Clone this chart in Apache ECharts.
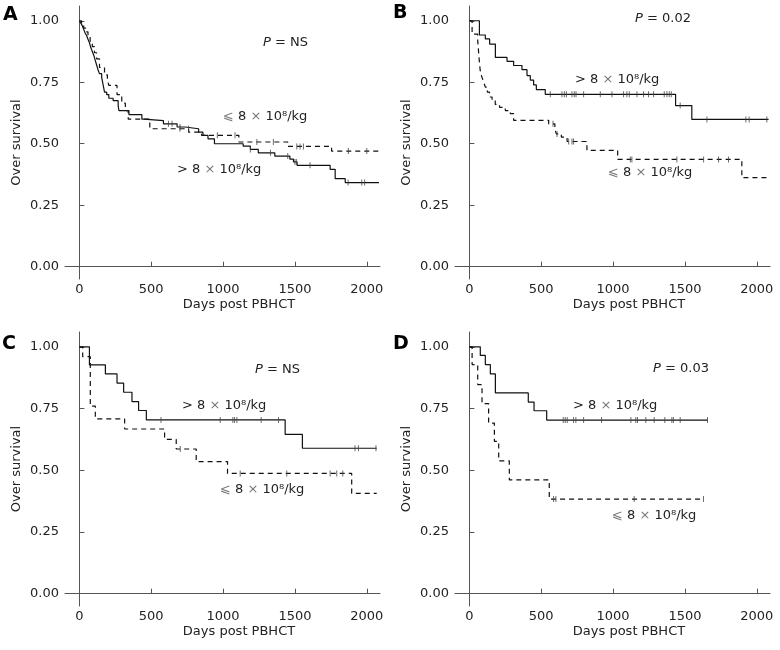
<!DOCTYPE html>
<html><head><meta charset="utf-8">
<script src="https://cdn.jsdelivr.net/npm/echarts@6/dist/echarts.min.js"></script>
<style>html,body{margin:0;padding:0;background:#fff}#c{width:780px;height:650px}</style>
</head><body><div id="c"></div><script>
// ---------- data ----------
const xTicks = [0, 500, 1000, 1500, 2000];
const yTicks = [0, 0.25, 0.5, 0.75, 1];

// Panel A
const aHighT = [0,10,20,30,40,50,60,70,80,90,100,110,120,130,140,155,165,175,190,205,235,270,275,345,435,450,585,680,735,830,860,895,940,1140,1190,1245,1360,1465,1490,1515,1745,1780,1850,2085];
const aHighS = [1,0.99,0.98,0.965,0.95,0.94,0.925,0.91,0.89,0.875,0.86,0.84,0.82,0.80,0.785,0.77,0.74,0.71,0.70,0.685,0.675,0.655,0.635,0.618,0.60,0.594,0.581,0.568,0.561,0.547,0.534,0.52,0.50,0.49,0.477,0.463,0.45,0.437,0.426,0.412,0.396,0.358,0.342,0.342];
const aHighCT = [620,645,700,760,1190,1330,1450,1500,1510,1605,1870,1965,1985];
const aHighCS = [0.581,0.581,0.568,0.561,0.477,0.463,0.45,0.426,0.426,0.412,0.342,0.342,0.342];
const aLowT = [0,15,30,45,60,75,90,105,120,140,175,195,205,262,295,320,340,490,760,850,1110,1450,1755,2090];
const aLowS = [1,0.985,0.97,0.955,0.935,0.915,0.895,0.87,0.845,0.81,0.78,0.76,0.737,0.70,0.665,0.635,0.60,0.561,0.547,0.534,0.507,0.489,0.47,0.47];
const aLowCT = [700,960,1083,1235,1350,1513,1536,1559,1872,2000];
const aLowCS = [0.561,0.534,0.534,0.507,0.507,0.489,0.489,0.489,0.47,0.47];

// Panel B
const bHighT = [0,70,111,141,181,262,308,366,401,424,447,466,528,1435,1548,2082];
const bHighS = [1,0.942,0.926,0.905,0.851,0.835,0.818,0.801,0.777,0.759,0.739,0.72,0.701,0.655,0.599,0.599];
const bHighCT = [563,644,661,675,714,730,742,795,911,992,1073,1096,1113,1166,1212,1247,1282,1356,1375,1391,1405,1467,1653,1924,1947,2070];
const bHighCS = [0.701,0.701,0.701,0.701,0.701,0.701,0.701,0.701,0.701,0.701,0.701,0.701,0.701,0.701,0.701,0.701,0.701,0.701,0.701,0.701,0.701,0.655,0.599,0.599,0.599,0.599];
const bLowT = [0,19,58,62,66,70,75,80,88,100,111,125,140,158,180,210,250,285,308,552,595,605,640,680,818,1032,1896,2082];
const bLowS = [1,0.946,0.92,0.89,0.86,0.83,0.80,0.785,0.77,0.75,0.73,0.71,0.69,0.676,0.66,0.648,0.635,0.622,0.595,0.581,0.561,0.54,0.527,0.509,0.473,0.436,0.362,0.362];
const bLowCT = [582,610,691,714,725,1120,1131,1444,1630,1734,1803];
const bLowCS = [0.581,0.54,0.509,0.509,0.509,0.436,0.436,0.436,0.436,0.436,0.436];

// Panel C
const cHighT = [0,70,181,262,308,366,412,466,1432,1552,2069];
const cHighS = [1,0.927,0.89,0.853,0.816,0.778,0.742,0.704,0.645,0.589,0.589];
const cHighCT = [568,980,1068,1080,1096,1265,1386,1918,1942,2064];
const cHighCS = [0.704,0.704,0.704,0.704,0.704,0.704,0.704,0.589,0.589,0.589];
const cLowT = [0,23,76,111,315,593,674,813,1031,1895,2069];
const cLowS = [1,0.96,0.76,0.708,0.667,0.625,0.586,0.535,0.487,0.406,0.406];
const cLowCT = [702,1119,1443,1745,1791,1833];
const cLowCS = [0.586,0.487,0.487,0.487,0.487,0.487];

// Panel D
const dHighT = [0,76,111,146,181,410,450,538,1657];
const dHighS = [1,0.965,0.928,0.89,0.813,0.776,0.741,0.703,0.703];
const dHighCT = [653,667,681,725,741,795,920,1124,1158,1170,1228,1286,1360,1409,1420,1467,1657];
const dHighCS = [0.703,0.703,0.703,0.703,0.703,0.703,0.703,0.703,0.703,0.703,0.703,0.703,0.703,0.703,0.703,0.703,0.703];
const dLowT = [0,19,58,88,134,174,204,278,556,1629];
const dLowS = [1,0.928,0.847,0.77,0.691,0.617,0.538,0.461,0.383,0.383];
const dLowCT = [586,602,1147,1629];
const dLowCS = [0.383,0.383,0.383,0.383];

const panelLetters = ['A', 'B', 'C', 'D'];
const pTexts = ['NS', '0.02', 'NS', '0.03'];
const highLabel = '> 8 {g|×} 10⁸/kg';
const lowLabel = '{g|⩽} 8 {g|×} 10⁸/kg';
const xName = 'Days post PBHCT';
const yName = 'Over survival';

// ---------- chart ----------
const FONT = 'DejaVu Sans';
const zip = (a, b) => a.map((v, i) => [v, b[i]]);

const panels = [
  {grid: {left: 65, top: 6, width: 315, height: 273}, high: [aHighT, aHighS], low: [aLowT, aLowS], hc: [aHighCT, aHighCS], lc: [aLowCT, aLowCS],
   letter: [3, 15], p: [263, 43], hl: [177, 170], ll: [223, 117]},
  {grid: {left: 455, top: 6, width: 315, height: 273}, high: [bHighT, bHighS], low: [bLowT, bLowS], hc: [bHighCT, bHighCS], lc: [bLowCT, bLowCS],
   letter: [393, 13], p: [635, 19], hl: [575, 80], ll: [608, 173]},
  {grid: {left: 65, top: 332, width: 315, height: 274}, high: [cHighT, cHighS], low: [cLowT, cLowS], hc: [cHighCT, cHighCS], lc: [cLowCT, cLowCS],
   letter: [2, 344], p: [255, 370], hl: [182, 406], ll: [220, 490]},
  {grid: {left: 455, top: 332, width: 315, height: 274}, high: [dHighT, dHighS], low: [dLowT, dLowS], hc: [dHighCT, dHighCS], lc: [dLowCT, dLowCS],
   letter: [393, 344], p: [653, 369], hl: [573, 406], ll: [612, 516]}
];

const axisColor = '#555';
const textColor = '#222';
const grids = [], xAxes = [], yAxes = [], series = [], graphics = [];

panels.forEach((pn, i) => {
  grids.push(Object.assign({containLabel: false}, pn.grid));
  xAxes.push({
    type: 'value', gridIndex: i, min: -100, max: 2092,
    axisLine: {show: true, lineStyle: {color: axisColor, width: 1}},
    axisTick: {show: true, inside: true, length: 5, customValues: xTicks, lineStyle: {color: axisColor}},
    axisLabel: {customValues: xTicks, margin: 4, color: textColor, fontFamily: FONT, fontSize: 13,
      formatter: v => String(v)},
    splitLine: {show: false},
    name: xName, nameLocation: 'middle', nameGap: 19,
    nameTextStyle: {fontFamily: FONT, fontSize: 13, color: textColor, padding: [0, 0, 0, 33]}
  });
  yAxes.push({
    type: 'value', gridIndex: i, min: -0.05, max: 1.06,
    axisLine: {show: true, lineStyle: {color: axisColor, width: 1}},
    axisTick: {show: true, inside: true, length: 5, customValues: yTicks, lineStyle: {color: axisColor}},
    axisLabel: {customValues: yTicks, margin: 6, color: textColor, fontFamily: FONT, fontSize: 13,
      formatter: v => v.toFixed(2)},
    splitLine: {show: false},
    name: yName, nameLocation: 'middle', nameGap: 42,
    nameTextStyle: {fontFamily: FONT, fontSize: 13, color: textColor}
  });
  series.push({
    type: 'line', xAxisIndex: i, yAxisIndex: i, step: 'end', symbol: 'none',
    data: zip(pn.low[0], pn.low[1]),
    lineStyle: {color: '#111', width: 1.2, type: [5, 4]}, silent: true, z: 2
  });
  series.push({
    type: 'line', xAxisIndex: i, yAxisIndex: i, step: 'end', symbol: 'none',
    data: zip(pn.high[0], pn.high[1]),
    lineStyle: {color: '#111', width: 1.2, type: 'solid'}, silent: true, z: 3
  });
  [pn.hc, pn.lc].forEach(c => {
    series.push({
      type: 'scatter', xAxisIndex: i, yAxisIndex: i, symbol: 'rect', symbolSize: [1, 6],
      data: zip(c[0], c[1]), itemStyle: {color: '#444'}, silent: true, z: 4
    });
  });
  const base = {fontFamily: FONT, fontSize: 13, fill: textColor};
  graphics.push({type: 'text', x: pn.letter[0], y: pn.letter[1],
    style: {text: panelLetters[i], fontFamily: FONT, fontSize: 19, fontWeight: 'bold', fill: '#000', verticalAlign: 'middle'}});
  graphics.push({type: 'text', x: pn.p[0], y: pn.p[1],
    style: Object.assign({text: '{i|P} = ' + pTexts[i], verticalAlign: 'middle',
      rich: {i: Object.assign({fontStyle: 'italic'}, base)}}, base)});
  graphics.push({type: 'text', x: pn.hl[0], y: pn.hl[1],
    style: Object.assign({text: highLabel, verticalAlign: 'middle',
      rich: {g: Object.assign({}, base, {fill: '#777'})}}, base)});
  graphics.push({type: 'text', x: pn.ll[0], y: pn.ll[1],
    style: Object.assign({text: lowLabel, verticalAlign: 'middle',
      rich: {g: Object.assign({}, base, {fill: '#777'})}}, base)});
});

const chart = echarts.init(document.getElementById('c'), null, {renderer: 'canvas'});
chart.setOption({
  animation: false,
  backgroundColor: '#fff',
  grid: grids, xAxis: xAxes, yAxis: yAxes, series: series, graphic: graphics
});
</script></body></html>
